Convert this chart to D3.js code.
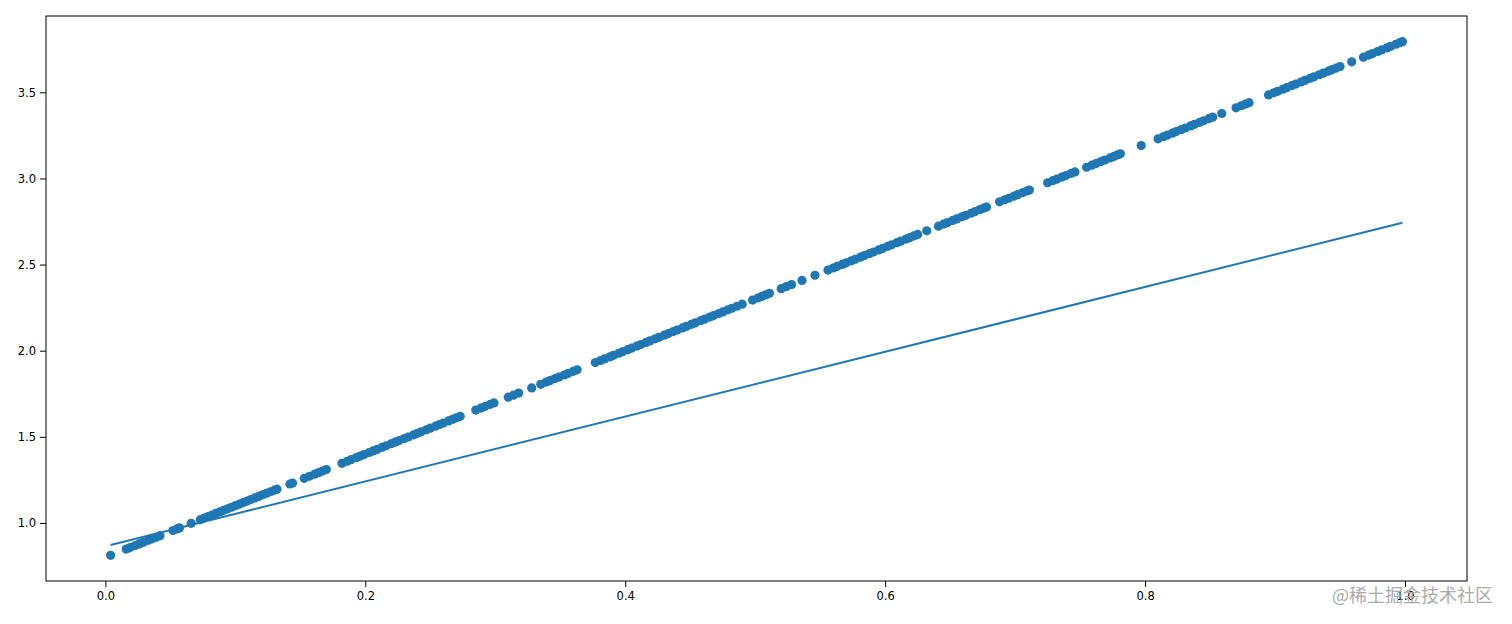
<!DOCTYPE html>
<html>
<head>
<meta charset="utf-8">
<script src="https://cdn.jsdelivr.net/npm/d3@7"></script>
<style>
  html, body { margin: 0; padding: 0; background: #fff; }
  svg { display: block; }
  .axis text { font-family: "DejaVu Sans", sans-serif; font-size: 11.5px; fill: #000; }
  .axis line, .axis path { stroke: #000; }
</style>
</head>
<body>
<svg id="main" width="1512" height="624"></svg>
<script>
// scatter points
const scatterX = [
  0.004, 0.016, 0.019, 0.023, 0.026, 0.029, 0.033, 0.036, 0.039, 0.042,
  0.052, 0.055, 0.057, 0.066,
  0.073, 0.076, 0.079, 0.082, 0.085, 0.088, 0.091, 0.094, 0.097, 0.100,
  0.103, 0.106, 0.109, 0.112, 0.115, 0.118, 0.121, 0.124, 0.127, 0.130, 0.132,
  0.142, 0.144, 0.153, 0.157, 0.161, 0.164, 0.167, 0.170,
  0.182, 0.186, 0.189, 0.193, 0.196, 0.199, 0.203, 0.206, 0.209, 0.213,
  0.216, 0.220, 0.223, 0.226, 0.230, 0.233, 0.237, 0.240, 0.243, 0.247,
  0.250, 0.254, 0.257, 0.260, 0.264, 0.267, 0.270, 0.273,
  0.285, 0.289, 0.292, 0.296, 0.299, 0.310, 0.314, 0.318, 0.328,
  0.335, 0.339, 0.342, 0.346, 0.349, 0.353, 0.356, 0.360, 0.363,
  0.377, 0.381, 0.384, 0.388, 0.391, 0.395, 0.398, 0.402, 0.405, 0.409,
  0.412, 0.416, 0.419, 0.423, 0.426, 0.430, 0.433, 0.437, 0.440, 0.444,
  0.447, 0.451, 0.454, 0.458, 0.461, 0.465, 0.468, 0.472, 0.475, 0.479,
  0.482, 0.486, 0.490,
  0.498, 0.502, 0.505, 0.508, 0.511, 0.520, 0.524, 0.528, 0.536, 0.546,
  0.556, 0.560, 0.563, 0.567, 0.570, 0.574, 0.577, 0.581, 0.584, 0.588,
  0.591, 0.595, 0.598, 0.602, 0.605, 0.609, 0.612, 0.616, 0.619, 0.622, 0.625,
  0.632,
  0.641, 0.645, 0.648, 0.652, 0.655, 0.659, 0.662, 0.666, 0.669, 0.673, 0.676, 0.678,
  0.688, 0.692, 0.695, 0.699, 0.702, 0.706, 0.709, 0.711,
  0.725, 0.729, 0.732, 0.736, 0.739, 0.743, 0.746,
  0.755, 0.759, 0.762, 0.766, 0.769, 0.773, 0.776, 0.779, 0.781,
  0.797,
  0.810, 0.814, 0.817, 0.821, 0.824, 0.828, 0.831, 0.835, 0.838, 0.842, 0.845, 0.849, 0.852,
  0.859, 0.870, 0.874, 0.877, 0.880,
  0.895, 0.899, 0.902, 0.906, 0.909, 0.913, 0.916, 0.920, 0.923, 0.927,
  0.930, 0.934, 0.937, 0.941, 0.944, 0.947, 0.950,
  0.959,
  0.968, 0.972, 0.975, 0.979, 0.982, 0.986, 0.989, 0.993, 0.996, 0.998
];
const scatterY = [
  0.812, 0.848, 0.857, 0.869, 0.878, 0.887, 0.899, 0.908, 0.917, 0.926,
  0.956, 0.965, 0.971, 0.998,
  1.019, 1.028, 1.037, 1.046, 1.055, 1.064, 1.073, 1.082, 1.091, 1.100,
  1.109, 1.118, 1.127, 1.136, 1.145, 1.154, 1.163, 1.172, 1.181, 1.190, 1.196,
  1.226, 1.232, 1.259, 1.271, 1.283, 1.292, 1.301, 1.310,
  1.346, 1.358, 1.367, 1.379, 1.388, 1.397, 1.409, 1.418, 1.427, 1.439,
  1.448, 1.460, 1.469, 1.478, 1.490, 1.499, 1.511, 1.520, 1.529, 1.541,
  1.550, 1.562, 1.571, 1.580, 1.592, 1.601, 1.610, 1.619,
  1.655, 1.667, 1.676, 1.688, 1.697, 1.730, 1.742, 1.754, 1.784,
  1.805, 1.817, 1.826, 1.838, 1.847, 1.859, 1.868, 1.880, 1.889,
  1.931, 1.943, 1.952, 1.964, 1.973, 1.985, 1.994, 2.006, 2.015, 2.027,
  2.036, 2.048, 2.057, 2.069, 2.078, 2.090, 2.099, 2.111, 2.120, 2.132,
  2.141, 2.153, 2.162, 2.174, 2.183, 2.195, 2.204, 2.216, 2.225, 2.237,
  2.246, 2.258, 2.270,
  2.294, 2.306, 2.315, 2.324, 2.333, 2.360, 2.372, 2.384, 2.408, 2.438,
  2.468, 2.480, 2.489, 2.501, 2.510, 2.522, 2.531, 2.543, 2.552, 2.564,
  2.573, 2.585, 2.594, 2.606, 2.615, 2.627, 2.636, 2.648, 2.657, 2.666, 2.675,
  2.696,
  2.723, 2.735, 2.744, 2.756, 2.765, 2.777, 2.786, 2.798, 2.807, 2.819, 2.828, 2.834,
  2.864, 2.876, 2.885, 2.897, 2.906, 2.918, 2.927, 2.933,
  2.975, 2.987, 2.996, 3.008, 3.017, 3.029, 3.038,
  3.065, 3.077, 3.086, 3.098, 3.107, 3.119, 3.128, 3.137, 3.143,
  3.191,
  3.230, 3.242, 3.251, 3.263, 3.272, 3.284, 3.293, 3.305, 3.314, 3.326, 3.335, 3.347, 3.356,
  3.377, 3.410, 3.422, 3.431, 3.440,
  3.485, 3.497, 3.506, 3.518, 3.527, 3.539, 3.548, 3.560, 3.569, 3.581,
  3.590, 3.602, 3.611, 3.623, 3.632, 3.641, 3.650,
  3.677,
  3.704, 3.716, 3.725, 3.737, 3.746, 3.758, 3.767, 3.779, 3.788, 3.794
];

// fitted line
const fitX = [0.004, 0.998];
const fitY = [0.872, 2.743];

const xTicks = [0.0, 0.2, 0.4, 0.6, 0.8, 1.0];
const yTicks = [1.0, 1.5, 2.0, 2.5, 3.0, 3.5];

const watermark = "@稀土掘金技术社区";

const color = "#1f77b4";
const margin = { left: 46, right: 45, top: 16, bottom: 43 };
const width = 1512, height = 624;

const svg = d3.select("#main");

// matplotlib style 5% padding
function padded(ext) {
  const s = ext[1] - ext[0];
  return [ext[0] - 0.05 * s, ext[1] + 0.05 * s];
}

const xScale = d3.scaleLinear()
  .domain(padded(d3.extent(scatterX.concat(fitX))))
  .range([margin.left, width - margin.right]);
const yScale = d3.scaleLinear()
  .domain(padded(d3.extent(scatterY.concat(fitY))))
  .range([height - margin.bottom, margin.top]);

const pts = scatterX.map((x, i) => [x, scatterY[i]]);

svg.append("g")
  .selectAll("circle")
  .data(pts)
  .enter()
  .append("circle")
  .attr("cx", d => xScale(d[0]))
  .attr("cy", d => yScale(d[1]))
  .attr("r", 4.6)
  .attr("fill", color);

const line = d3.line().x(d => xScale(d[0])).y(d => yScale(d[1]));
svg.append("path")
  .datum(fitX.map((x, i) => [x, fitY[i]]))
  .attr("d", line)
  .attr("fill", "none")
  .attr("stroke", color)
  .attr("stroke-width", 2);

// frame
svg.append("rect")
  .attr("x", margin.left)
  .attr("y", margin.top)
  .attr("width", width - margin.left - margin.right)
  .attr("height", height - margin.top - margin.bottom)
  .attr("fill", "none")
  .attr("stroke", "#000")
  .attr("stroke-width", 1);

svg.append("g")
  .attr("class", "axis")
  .attr("transform", `translate(0,${height - margin.bottom})`)
  .call(d3.axisBottom(xScale).tickValues(xTicks).tickFormat(d3.format(".1f")).tickSize(6).tickPadding(5))
  .call(g => g.select(".domain").remove());

svg.append("g")
  .attr("class", "axis")
  .attr("transform", `translate(${margin.left},0)`)
  .call(d3.axisLeft(yScale).tickValues(yTicks).tickFormat(d3.format(".1f")).tickSize(6).tickPadding(4))
  .call(g => g.select(".domain").remove());

svg.append("text")
  .attr("x", 1493)
  .attr("y", 602)
  .attr("text-anchor", "end")
  .attr("font-family", "Noto Sans CJK SC")
  .attr("font-size", 18)
  .attr("fill", "#ababab")
  .text(watermark);
</script>
</body>
</html>
